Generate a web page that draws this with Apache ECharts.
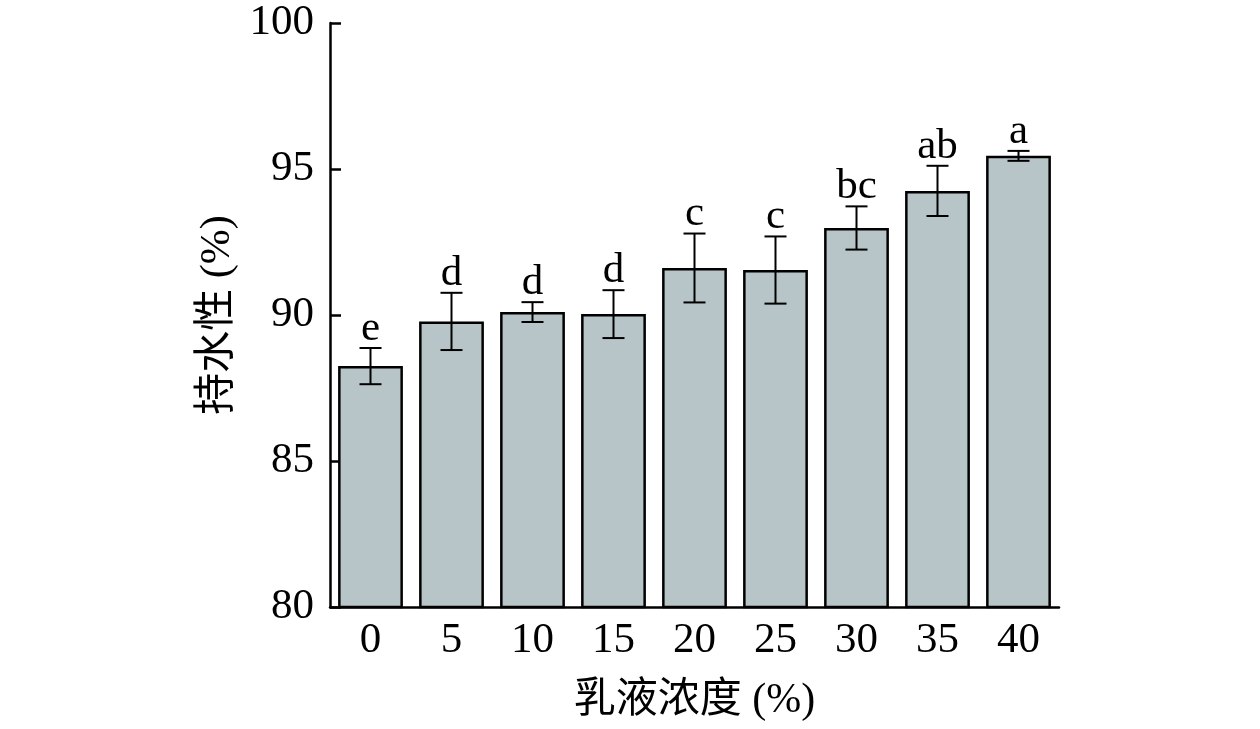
<!DOCTYPE html>
<html>
<head>
<meta charset="utf-8">
<script src="https://cdn.jsdelivr.net/npm/echarts@6/dist/echarts.min.js"></script>
<style>html,body{margin:0;padding:0;background:#fff}#main{width:1260px;height:729px}</style>
</head>
<body>
<div id="main"></div>
<script>
var categories = ['0', '5', '10', '15', '20', '25', '30', '35', '40'];
var means = [88.25, 89.78, 90.1, 90.03, 91.61, 91.54, 92.98, 94.25, 95.45];
var errors = [0.62, 0.98, 0.34, 0.82, 1.18, 1.15, 0.74, 0.86, 0.17];
var letters = ['e', 'd', 'd', 'd', 'c', 'c', 'bc', 'ab', 'a'];
var yTicks = [80, 85, 90, 95, 100];

var font = "'Times New Roman', 'Liberation Serif', 'Noto Sans CJK SC', serif";

var errData = [];
for (var i = 0; i < categories.length; i++) {
    errData.push([i, means[i] - errors[i], means[i] + errors[i], letters[i]]);
}

var chart = echarts.init(document.getElementById('main'));
chart.setOption({
    backgroundColor: '#fff',
    animation: false,
    grid: {left: 330, right: 201, top: 23, bottom: 122},
    xAxis: {
        type: 'category',
        data: categories,
        name: '乳液浓度 (%)',
        nameLocation: 'middle',
        nameGap: 73,
        nameTextStyle: {fontFamily: font, fontSize: 42, color: '#000'},
        axisLine: {lineStyle: {color: '#000', width: 2.5}},
        axisTick: {show: false},
        axisLabel: {fontFamily: font, fontSize: 43, color: '#000', margin: 12}
    },
    yAxis: {
        type: 'value',
        min: yTicks[0],
        max: yTicks[yTicks.length - 1],
        interval: 5,
        name: '持水性 (%)',
        nameLocation: 'middle',
        nameRotate: 90,
        nameGap: 76,
        nameTextStyle: {fontFamily: font, fontSize: 42, color: '#000'},
        axisLine: {show: true, lineStyle: {color: '#000', width: 2.5}},
        axisTick: {show: true, inside: true, length: 11, lineStyle: {color: '#000', width: 2.5}},
        splitLine: {show: false},
        axisLabel: {fontFamily: font, fontSize: 43, color: '#000', margin: 16}
    },
    series: [
        {
            type: 'bar',
            data: means,
            barWidth: '80%',
            itemStyle: {color: '#b8c5c8', borderColor: '#000', borderWidth: 2.5}
        },
        {
            type: 'custom',
            data: errData,
            z: 10,
            renderItem: function (params, api) {
                var x = api.value(0);
                var lo = api.coord([x, api.value(1)]);
                var hi = api.coord([x, api.value(2)]);
                var cap = 11;
                var st = {stroke: '#000', lineWidth: 2};
                return {
                    type: 'group',
                    children: [
                        {type: 'line', shape: {x1: hi[0], y1: hi[1], x2: lo[0], y2: lo[1]}, style: st},
                        {type: 'line', shape: {x1: hi[0] - cap, y1: hi[1], x2: hi[0] + cap, y2: hi[1]}, style: st},
                        {type: 'line', shape: {x1: lo[0] - cap, y1: lo[1], x2: lo[0] + cap, y2: lo[1]}, style: st},
                        {type: 'text', x: hi[0], y: hi[1] + 2, style: {
                            text: api.value(3), fontFamily: font, fontSize: 43, fill: '#000',
                            align: 'center', verticalAlign: 'bottom'
                        }}
                    ]
                };
            }
        }
    ]
});
</script>
</body>
</html>
